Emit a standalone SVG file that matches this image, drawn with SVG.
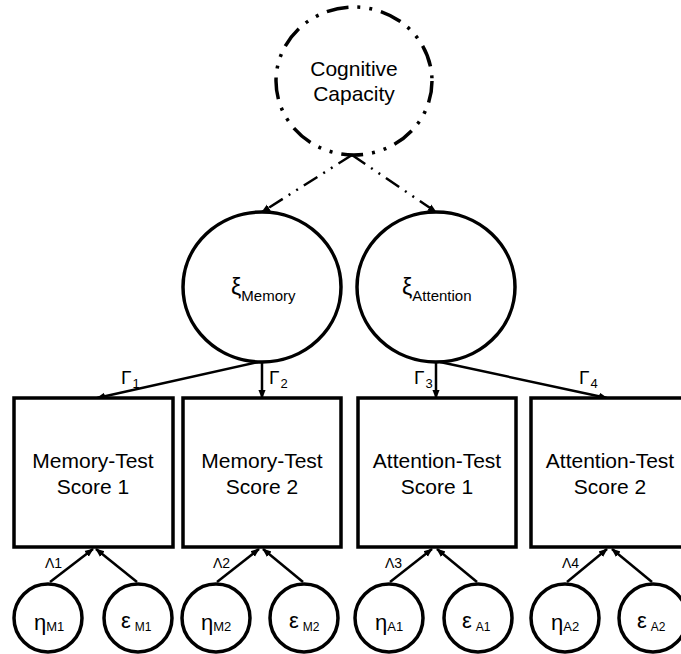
<svg xmlns="http://www.w3.org/2000/svg" width="681" height="654" viewBox="0 0 681 654">
  <style>
    text { font-family: "Liberation Sans", Arial, sans-serif; fill: #000; }
    .node { fill: #fff; stroke: #000; stroke-width: 3.5; }
    .higher { fill: #fff; stroke: #000; stroke-width: 3.5; stroke-dasharray: 22 9 3 9 3 9; }
    .edge { fill: none; stroke: #000; stroke-width: 2.5; marker-end: url(#arrow); }
    .dashed { stroke-dasharray: 16 7 2 7 2 7; }
    .lbl { font-size: 21px; text-anchor: middle; }
    .gk { font-size: 19px; }
    .sub { font-size: 13px; }
  </style>
  <defs>
    <marker id="arrow" viewBox="0 0 10 10" refX="9" refY="5" markerWidth="9" markerHeight="9" markerUnits="userSpaceOnUse" orient="auto">
      <path d="M0,1 L10,5 L0,9 z" fill="#000"/>
    </marker>
  </defs>
  <rect width="681" height="654" fill="#fff"/>

  <g id="connectors">
    <line class="edge dashed" x1="352" y1="155" x2="262" y2="212"/>
    <line class="edge dashed" x1="352" y1="155" x2="436" y2="212"/>
    <line class="edge" x1="258" y1="362" x2="97" y2="398"/>
    <line class="edge" x1="262" y1="362" x2="262" y2="398"/>
    <line class="edge" x1="436" y1="362" x2="436" y2="398"/>
    <line class="edge" x1="440" y1="362" x2="607" y2="398"/>
    <line class="edge" x1="50" y1="582" x2="93" y2="549"/>
    <line class="edge" x1="137" y1="582" x2="96" y2="549"/>
    <line class="edge" x1="217" y1="582" x2="259" y2="549"/>
    <line class="edge" x1="303" y1="582" x2="263" y2="549"/>
    <line class="edge" x1="390" y1="582" x2="432" y2="549"/>
    <line class="edge" x1="477" y1="582" x2="437" y2="549"/>
    <line class="edge" x1="567" y1="582" x2="607" y2="549"/>
    <line class="edge" x1="652" y1="582" x2="612" y2="549"/>
    <!-- path coefficients -->
    <text class="gk" x="121" y="384">Γ<tspan class="sub" dx="1" dy="4">1</tspan></text>
    <text class="gk" x="269" y="384">Γ<tspan class="sub" dx="1" dy="4">2</tspan></text>
    <text class="gk" x="414" y="384">Γ<tspan class="sub" dx="1" dy="4">3</tspan></text>
    <text class="gk" x="579" y="384">Γ<tspan class="sub" dx="1" dy="4">4</tspan></text>
    <text font-size="14" x="45" y="568">Λ1</text>
    <text font-size="14" x="213" y="568">Λ2</text>
    <text font-size="14" x="385" y="568">Λ3</text>
    <text font-size="14" x="562" y="568">Λ4</text>
  </g>

  <g id="cognitive-capacity">
    <ellipse class="higher" cx="354" cy="81" rx="78" ry="74"/>
    <text class="lbl" x="354" y="76">Cognitive</text>
    <text class="lbl" x="354" y="101">Capacity</text>
  </g>

  <g id="xi-memory">
    <ellipse class="node" cx="262" cy="287" rx="79" ry="75"/>
    <text x="231" y="295" font-size="23">ξ<tspan font-size="15" dy="6">Memory</tspan></text>
  </g>
  <g id="xi-attention">
    <ellipse class="node" cx="436" cy="287" rx="79" ry="75"/>
    <text x="402" y="295" font-size="23">ξ<tspan font-size="15" dy="6">Attention</tspan></text>
  </g>

  <g id="memory-test-1">
    <rect class="node" x="14" y="398" width="159" height="149"/>
    <text class="lbl" x="93" y="468">Memory-Test</text>
    <text class="lbl" x="93" y="494">Score 1</text>
  </g>
  <g id="memory-test-2">
    <rect class="node" x="183" y="398" width="158" height="149"/>
    <text class="lbl" x="262" y="468">Memory-Test</text>
    <text class="lbl" x="262" y="494">Score 2</text>
  </g>
  <g id="attention-test-1">
    <rect class="node" x="358" y="398" width="158" height="149"/>
    <text class="lbl" x="437" y="468">Attention-Test</text>
    <text class="lbl" x="437" y="494">Score 1</text>
  </g>
  <g id="attention-test-2">
    <rect class="node" x="531" y="398" width="158" height="149"/>
    <text class="lbl" x="610" y="468">Attention-Test</text>
    <text class="lbl" x="610" y="494">Score 2</text>
  </g>

  <g id="eta-m1">
    <circle class="node" cx="48" cy="618" r="34"/>
    <text x="34" y="630" font-size="22">η<tspan font-size="13" dy="1">M1</tspan></text>
  </g>
  <g id="eps-m1">
    <circle class="node" cx="138" cy="618" r="34"/>
    <text x="121" y="628" font-size="22">ε<tspan font-size="12" dx="4" dy="3">M1</tspan></text>
  </g>
  <g id="eta-m2">
    <circle class="node" cx="216" cy="618" r="34"/>
    <text x="201" y="630" font-size="22">η<tspan font-size="13" dy="1">M2</tspan></text>
  </g>
  <g id="eps-m2">
    <circle class="node" cx="304" cy="618" r="34"/>
    <text x="289" y="628" font-size="22">ε<tspan font-size="12" dx="4" dy="3">M2</tspan></text>
  </g>
  <g id="eta-a1">
    <circle class="node" cx="389" cy="618" r="34"/>
    <text x="375" y="630" font-size="22">η<tspan font-size="13" dy="1">A1</tspan></text>
  </g>
  <g id="eps-a1">
    <circle class="node" cx="478" cy="618" r="34"/>
    <text x="462" y="628" font-size="22">ε<tspan font-size="12" dx="4" dy="3">A1</tspan></text>
  </g>
  <g id="eta-a2">
    <circle class="node" cx="565" cy="618" r="34"/>
    <text x="551" y="630" font-size="22">η<tspan font-size="13" dy="1">A2</tspan></text>
  </g>
  <g id="eps-a2">
    <circle class="node" cx="653" cy="618" r="34"/>
    <text x="637" y="628" font-size="22">ε<tspan font-size="12" dx="4" dy="3">A2</tspan></text>
  </g>
</svg>
